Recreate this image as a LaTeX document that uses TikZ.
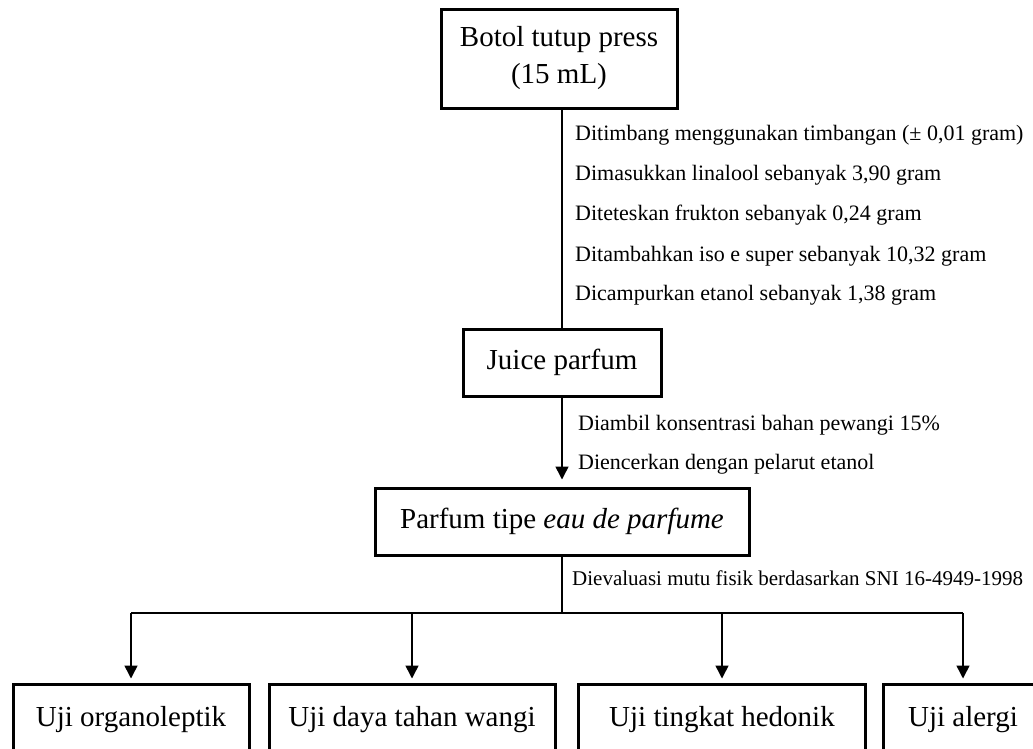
\documentclass[tikz,border=0pt]{standalone}
\usepackage{fontspec}
\setmainfont{Liberation Serif}
\usetikzlibrary{positioning,arrows.meta}

\begin{document}
\begin{tikzpicture}[x=1pt,y=-1pt,
    kotak/.style={draw,line width=3pt,align=center,inner sep=0pt,font=\fontsize{29}{37}\selectfont},
    ket/.style={anchor=west,inner sep=0pt,font=\fontsize{22}{26}\selectfont},
    garis/.style={line width=1.5pt},
    panah/.style={line width=1.5pt,-{Triangle[width=13pt,length=13pt]}}]
    \useasboundingbox (0,0) rectangle (1033,748);
    \clip (0,0) rectangle (1033,748);
    %%%%% THE MAIN FLOW
    \begin{scope}
      \node[kotak,minimum width=236,minimum height=99] (botol) at (559,58.5) {Botol tutup press\\(15 mL)};
      \node[kotak,minimum width=198,minimum height=67] (juice) at (562,362.5) {Juice parfum};
      \node[kotak,minimum width=374,minimum height=67] (parfum) at (562,521.5) {Parfum tipe \textit{eau de parfume}};
    \end{scope}
    %%%%% THE STEPS
    \begin{scope}[every node/.style={ket}]
      \node (timbang) at (575,135) {Ditimbang menggunakan timbangan (± 0,01 gram)};
      \node (linalool) at (575,175) {Dimasukkan linalool sebanyak 3,90 gram};
      \node (frukton) at (575,215) {Diteteskan frukton sebanyak 0,24 gram};
      \node (iso) at (575,256) {Ditambahkan iso e super sebanyak 10,32 gram};
      \node (etanol) at (575,295) {Dicampurkan etanol sebanyak 1,38 gram};
      \node (ambil) at (578,425) {Diambil konsentrasi bahan pewangi 15\%};
      \node (encer) at (578,464) {Diencerkan dengan pelarut etanol};
      \node[font=\fontsize{21}{25}\selectfont] (evaluasi) at (572,578) {Dievaluasi mutu fisik berdasarkan SNI 16-4949-1998};
    \end{scope}
    %%%%% THE TESTS
    \begin{scope}[every node/.style={kotak,minimum height=72}]
      \node[minimum width=236] (organo) at (131,720) {Uji organoleptik};
      \node[minimum width=286] (daya) at (412,720) {Uji daya tahan wangi};
      \node[minimum width=287] (hedonik) at (722,720) {Uji tingkat hedonik};
      \node[minimum width=160] (alergi) at (963,720) {Uji alergi};
    \end{scope}
    %%%% LINKS
    \coordinate (cabang) at (563,613);
    \draw[garis] (botol.south -| juice.north) -- (juice.north);
    \draw[panah,shorten >=7pt] (juice) -- (parfum);
    \draw[garis] (parfum.south) -- (parfum.south |- cabang);
    \draw[garis] (organo.north |- cabang) -- (alergi.north |- cabang);
    \foreach \n in {organo,daya,hedonik,alergi}
      \draw[panah,shorten >=4pt] (\n.north |- cabang) -- (\n.north);
\end{tikzpicture}
\end{document}
